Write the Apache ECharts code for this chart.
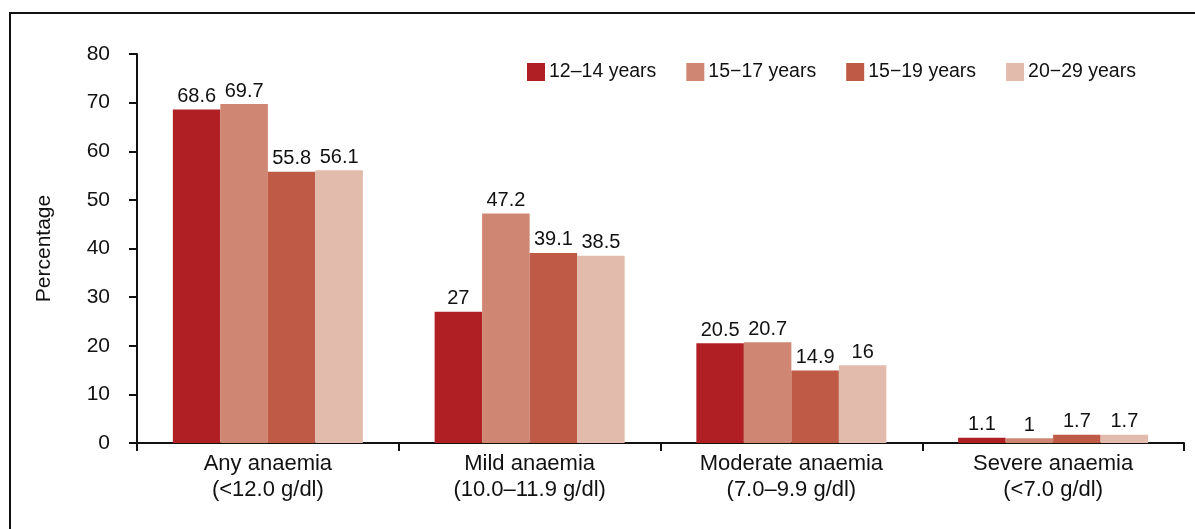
<!DOCTYPE html>
<html><head><meta charset="utf-8">
<script src="https://cdn.jsdelivr.net/npm/echarts@6/dist/echarts.min.js"></script>
<style>html,body{margin:0;padding:0;background:#fff}#c{width:1195px;height:529px}</style>
</head><body><div id="c"></div>
<script>
var categories = ["Any anaemia\n(<12.0 g/dl)", "Mild anaemia\n(10.0–11.9 g/dl)", "Moderate anaemia\n(7.0–9.9 g/dl)", "Severe anaemia\n(<7.0 g/dl)"];
var seriesNames = ["12–14 years", "15−17 years", "15−19 years", "20−29 years"];
var s1214 = [68.6, 27, 20.5, 1.1];
var s1517 = [69.7, 47.2, 20.7, 1];
var s1519 = [55.8, 39.1, 14.9, 1.7];
var s2029 = [56.1, 38.5, 16, 1.7];
var yTicks = [0, 80, 10];
var colors = ["#B01F24", "#CF8672", "#BE5A46", "#E3BBAD"];
var FONT = "Liberation Sans, Arial, sans-serif";
var chart = echarts.init(document.getElementById('c'));
function mk(name, data, col) {
  return {
    name: name, type: 'bar', data: data, barGap: '0%', barCategoryGap: '27.4%',
    itemStyle: { color: col },
    label: { show: true, position: 'top', distance: 3, color: '#111', fontFamily: FONT, fontSize: 20 }
  };
}
chart.setOption({
  animation: false,
  textStyle: { fontFamily: FONT },
  graphic: [{ type: 'rect', shape: { x: 10, y: 13, width: 1300, height: 700 }, style: { fill: null, stroke: '#111', lineWidth: 2 }, z: 100, silent: true }],
  grid: { left: 137, right: 11, top: 54, bottom: 86, containLabel: false },
  legend: {
    left: 527, top: 62, padding: 0, itemWidth: 18, itemHeight: 18, itemGap: 30, icon: 'rect',
    textStyle: { fontFamily: FONT, fontSize: 19.5, color: '#111', padding: [0, 0, 0, -1] },
    data: seriesNames
  },
  xAxis: {
    type: 'category', data: categories,
    axisLine: { lineStyle: { color: '#111', width: 2 } },
    axisTick: { show: true, length: 8, lineStyle: { color: '#111', width: 2 } },
    axisLabel: { color: '#111', fontFamily: FONT, fontSize: 22, lineHeight: 26, margin: 8 }
  },
  yAxis: {
    type: 'value', min: yTicks[0], max: yTicks[1], interval: yTicks[2],
    name: 'Percentage', nameLocation: 'middle', nameGap: 82, nameRotate: 90,
    nameTextStyle: { color: '#111', fontFamily: FONT, fontSize: 21 },
    axisLine: { show: true, lineStyle: { color: '#111', width: 2 } },
    axisTick: { show: true, length: 8, lineStyle: { color: '#111', width: 2 } },
    splitLine: { show: false },
    axisLabel: { color: '#111', fontFamily: FONT, fontSize: 21, margin: 27 }
  },
  series: [mk(seriesNames[0], s1214, colors[0]), mk(seriesNames[1], s1517, colors[1]), mk(seriesNames[2], s1519, colors[2]), mk(seriesNames[3], s2029, colors[3])]
});
</script></body></html>
